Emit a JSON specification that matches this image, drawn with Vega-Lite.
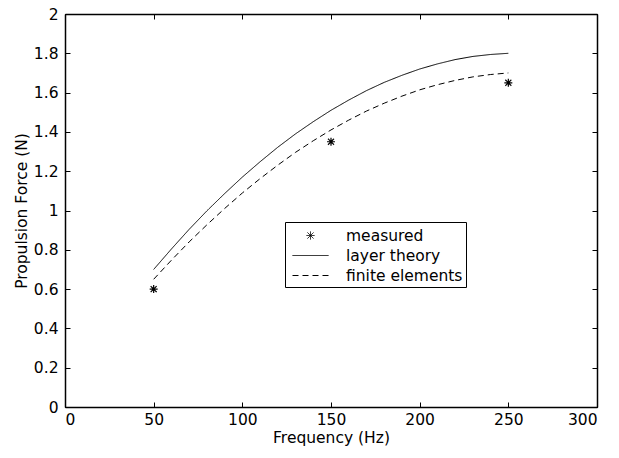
{
  "$schema": "https://vega.github.io/schema/vega-lite/v6.json",
  "autosize": {"type": "none"},
  "padding": {"left": 65, "top": 14, "right": 22, "bottom": 51},
  "width": 532,
  "height": 393,
  "background": "white",
  "config": {
    "font": "DejaVu Sans",
    "view": {"stroke": "black", "strokeWidth": 1},
    "axis": {"labelFont": "DejaVu Sans", "titleFont": "DejaVu Sans", "labelFontSize": 15.5, "titleFontSize": 15.5, "titleFontWeight": "normal", "labelColor": "black", "titleColor": "black", "domainColor": "black", "tickColor": "black", "grid": false, "tickSize": -5, "domainWidth": 1.5},
    "legend": {"labelFont": "DejaVu Sans"}
  },
  "datasets": {
    "measured": [
      {"f": 50, "force": 0.6, "series": "measured"},
      {"f": 150, "force": 1.35, "series": "measured"},
      {"f": 250, "force": 1.65, "series": "measured"}
    ],
    "curves": [
      {"f": 50, "force": 0.7, "series": "layer theory"},
      {"f": 60, "force": 0.804, "series": "layer theory"},
      {"f": 70, "force": 0.904, "series": "layer theory"},
      {"f": 80, "force": 0.998, "series": "layer theory"},
      {"f": 90, "force": 1.086, "series": "layer theory"},
      {"f": 100, "force": 1.17, "series": "layer theory"},
      {"f": 110, "force": 1.248, "series": "layer theory"},
      {"f": 120, "force": 1.322, "series": "layer theory"},
      {"f": 130, "force": 1.39, "series": "layer theory"},
      {"f": 140, "force": 1.452, "series": "layer theory"},
      {"f": 150, "force": 1.51, "series": "layer theory"},
      {"f": 160, "force": 1.562, "series": "layer theory"},
      {"f": 170, "force": 1.61, "series": "layer theory"},
      {"f": 180, "force": 1.652, "series": "layer theory"},
      {"f": 190, "force": 1.688, "series": "layer theory"},
      {"f": 200, "force": 1.72, "series": "layer theory"},
      {"f": 210, "force": 1.746, "series": "layer theory"},
      {"f": 220, "force": 1.768, "series": "layer theory"},
      {"f": 230, "force": 1.784, "series": "layer theory"},
      {"f": 240, "force": 1.794, "series": "layer theory"},
      {"f": 250, "force": 1.8, "series": "layer theory"},
      {"f": 50, "force": 0.65, "series": "finite elements"},
      {"f": 60, "force": 0.747, "series": "finite elements"},
      {"f": 70, "force": 0.84, "series": "finite elements"},
      {"f": 80, "force": 0.927, "series": "finite elements"},
      {"f": 90, "force": 1.01, "series": "finite elements"},
      {"f": 100, "force": 1.089, "series": "finite elements"},
      {"f": 110, "force": 1.162, "series": "finite elements"},
      {"f": 120, "force": 1.231, "series": "finite elements"},
      {"f": 130, "force": 1.296, "series": "finite elements"},
      {"f": 140, "force": 1.355, "series": "finite elements"},
      {"f": 150, "force": 1.41, "series": "finite elements"},
      {"f": 160, "force": 1.46, "series": "finite elements"},
      {"f": 170, "force": 1.506, "series": "finite elements"},
      {"f": 180, "force": 1.546, "series": "finite elements"},
      {"f": 190, "force": 1.582, "series": "finite elements"},
      {"f": 200, "force": 1.614, "series": "finite elements"},
      {"f": 210, "force": 1.64, "series": "finite elements"},
      {"f": 220, "force": 1.662, "series": "finite elements"},
      {"f": 230, "force": 1.68, "series": "finite elements"},
      {"f": 240, "force": 1.692, "series": "finite elements"},
      {"f": 250, "force": 1.7, "series": "finite elements"}
    ]
  },
  "layer": [
    {
      "data": {"name": "curves"},
      "mark": {"type": "line", "color": "black", "strokeWidth": 1},
      "encoding": {
        "x": {"field": "f", "type": "quantitative", "scale": {"domain": [0, 300], "nice": false}, "axis": {"orient": "bottom", "title": "Frequency (Hz)", "values": [0, 50, 100, 150, 200, 250, 300], "labelPadding": 10, "titlePadding": 3}},
        "y": {"field": "force", "type": "quantitative", "scale": {"domain": [0, 2], "nice": false}, "axis": {"orient": "left", "title": "Propulsion Force (N)", "format": "~g", "values": [0, 0.2, 0.4, 0.6, 0.8, 1, 1.2, 1.4, 1.6, 1.8, 2], "labelPadding": 12, "titlePadding": 4}},
        "detail": {"field": "series"},
        "strokeDash": {"field": "series", "type": "nominal", "scale": {"domain": ["measured", "layer theory", "finite elements"], "range": [[1, 0], [1, 0], [6, 4]]},
          "legend": {"title": null, "orient": "none", "legendX": 220, "legendY": 208, "strokeColor": "black", "fillColor": "white", "padding": 3, "symbolOffset": 12, "labelFontSize": 15.5, "labelColor": "black", "symbolStrokeColor": "black", "symbolFillColor": "transparent", "symbolStrokeWidth": 1, "symbolSize": 400, "rowPadding": 1, "labelOffset": 25, "cornerRadius": 0}
        }
      }
    },
    {
      "data": {"name": "measured"},
      "mark": {"type": "point", "size": 400, "stroke": "black", "strokeWidth": 1.2, "filled": false, "opacity": 1},
      "encoding": {
        "x": {"field": "f", "type": "quantitative", "scale": {"domain": [0, 300], "nice": false}, "axis": {"orient": "top", "labels": false, "title": null, "values": [0, 50, 100, 150, 200, 250, 300]}},
        "y": {"field": "force", "type": "quantitative", "scale": {"domain": [0, 2], "nice": false}, "axis": {"orient": "right", "labels": false, "title": null, "values": [0, 0.2, 0.4, 0.6, 0.8, 1, 1.2, 1.4, 1.6, 1.8, 2]}},
        "shape": {"field": "series", "type": "nominal", "scale": {"domain": ["measured", "layer theory", "finite elements"], "range": ["M-0.4,0L0.4,0M0,-0.4L0,0.4M-0.3,-0.3L0.3,0.3M-0.3,0.3L0.3,-0.3", "M-1.8,0L1.8,0", "M-1.8,0L1.8,0"]},
          "legend": {"title": null, "orient": "none", "legendX": 220, "legendY": 208, "strokeColor": "black", "fillColor": "white", "padding": 3, "symbolOffset": 12, "labelFontSize": 15.5, "labelColor": "black", "symbolStrokeColor": "black", "symbolFillColor": "transparent", "symbolStrokeWidth": 1, "symbolSize": 400, "rowPadding": 1, "labelOffset": 25, "cornerRadius": 0}
        },
        "strokeDash": {"field": "series", "type": "nominal", "scale": {"domain": ["measured", "layer theory", "finite elements"], "range": [[1, 0], [1, 0], [6, 4]]}}
      }
    }
  ],
  "resolve": {"axis": {"x": "independent", "y": "independent"}}
}
